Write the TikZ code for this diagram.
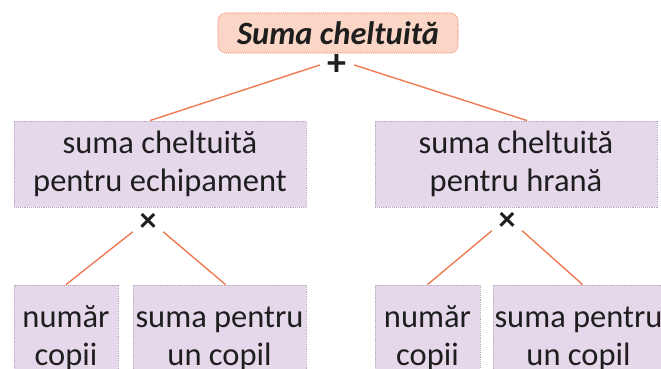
\documentclass[tikz,border=0pt]{standalone}
\usepackage{fontspec}
\setmainfont{Carlito}
\definecolor{peach}{HTML}{FBD6C6}
\definecolor{peachline}{HTML}{EFA38C}
\definecolor{lilac}{HTML}{E6D8EB}
\definecolor{lilacline}{HTML}{B5A8BF}
\definecolor{coral}{HTML}{F07A52}
\definecolor{ink}{HTML}{1E1E1E}
\usetikzlibrary{calc, positioning}
\tikzset{
  topbox/.style={draw=peachline, fill=peach, densely dotted, line width=1.1pt,
    rounded corners=8pt, minimum width=240pt, minimum height=40pt, inner sep=0pt,
    text=ink, font=\fontsize{32.5}{36}\selectfont\bfseries\itshape},
  midbox/.style={draw=lilacline, fill=lilac, densely dotted, line width=0.9pt,
    minimum height=86pt, inner sep=0pt, align=center, text=ink,
    font=\fontsize{32.5}{38}\selectfont},
  lowbox/.style={midbox, minimum height=107pt},
  opsign/.style={text=ink, inner xsep=6.5pt, inner ysep=0.5pt,
    font=\fontsize{34}{34}\selectfont\bfseries},
  link/.style={draw=coral, line width=1.4pt}
}

\begin{document}
\begin{tikzpicture}[x=1pt, y=-1pt]
  \useasboundingbox (0,0) rectangle (661,369);
  \clip (0,0) rectangle (661,369);

  % total
  \node[topbox] (total) at (338,33) {Suma cheltuită};
  \node[opsign, inner xsep=7.5pt, font=\fontsize{38}{38}\selectfont\bfseries] (plus) at (337,65) {+};

  % the two sums
  \node[midbox, minimum width=292pt] (echip) at (160,164) {suma cheltuită\\pentru echipament};
  \node[midbox, minimum width=282pt] (hrana) at (516,164) {suma cheltuită\\pentru hrană};
  \node[opsign] (timesL) at (148,222) {×};
  \node[opsign] (timesR) at (507,221) {×};

  % factors
  \node[lowbox, minimum width=104pt] (copiiL) at (66,338.5) {număr\\copii};
  \node[lowbox, minimum width=173pt] (unL) at (219.5,338.5) {suma pentru\\un copil};
  \node[lowbox, minimum width=105pt] (copiiR) at (427.5,338.5) {număr\\copii};
  \node[lowbox, minimum width=171pt] (unR) at (578.5,338.5) {suma pentru\\un copil};

  % links
  \draw[link] (plus.west) -- ($(echip.north)+(-10,0)$);
  \draw[link] (plus.east) -- ($(hrana.north)+(11,0)$);
  \draw[link] (timesL.south west) -- (copiiL.north);
  \draw[link] (timesL.south east) -- ($(unL.north)+(6,0)$);
  \draw[link] (timesR.south west) -- (copiiR.north);
  \draw[link] (timesR.south east) -- ($(unR.north)+(4,0)$);
\end{tikzpicture}
\end{document}
